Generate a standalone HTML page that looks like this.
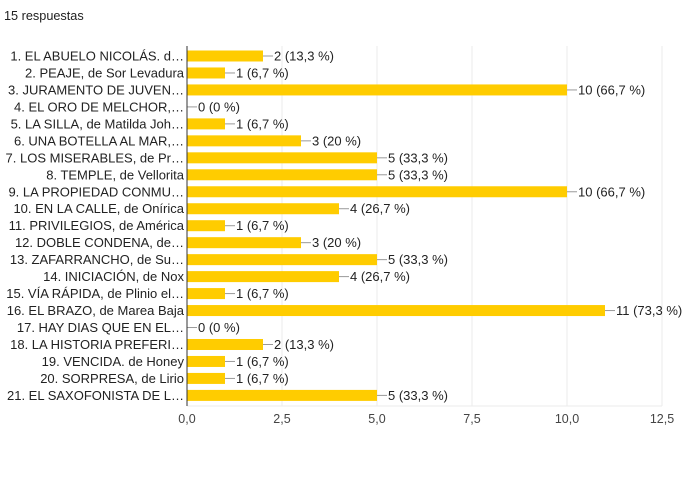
<!DOCTYPE html>
<html><head><meta charset="utf-8"><style>
body{margin:0;background:#fff;width:700px;height:474px;overflow:hidden;font-family:"Liberation Sans",Arial,sans-serif;}
</style></head><body>
<svg width="700" height="474" xmlns="http://www.w3.org/2000/svg" font-family="Liberation Sans, Arial, sans-serif">
<text x="4" y="20" font-size="12.7" fill="#212121">15 respuestas</text>
<g stroke="#ebebeb" stroke-width="1">
<line x1="282" y1="46" x2="282" y2="406"/>
<line x1="377" y1="46" x2="377" y2="406"/>
<line x1="472" y1="46" x2="472" y2="406"/>
<line x1="567" y1="46" x2="567" y2="406"/>
<line x1="662" y1="46" x2="662" y2="406"/>
<line x1="187" y1="406" x2="662" y2="406"/>
</g>
<g id="rows" font-size="13" fill="#222"></g>
<line x1="187" y1="46" x2="187" y2="406" stroke="#333" stroke-width="1"/>
<g font-size="12.5" fill="#444" text-anchor="middle">
<text x="187" y="423">0,0</text><text x="282" y="423">2,5</text><text x="377" y="423">5,0</text><text x="472" y="423">7,5</text><text x="567" y="423">10,0</text><text x="662" y="423">12,5</text>
</g>
</svg>
<script>
var d=[["1. EL ABUELO NICOLÁS. d…",2,"13,3"],["2. PEAJE, de Sor Levadura",1,"6,7"],["3. JURAMENTO DE JUVEN…",10,"66,7"],["4. EL ORO DE MELCHOR,…",0,"0"],["5. LA SILLA, de Matilda Joh…",1,"6,7"],["6. UNA BOTELLA AL MAR,…",3,"20"],["7. LOS MISERABLES, de Pr…",5,"33,3"],["8. TEMPLE, de Vellorita",5,"33,3"],["9. LA PROPIEDAD CONMU…",10,"66,7"],["10. EN LA CALLE, de Onírica",4,"26,7"],["11. PRIVILEGIOS, de América",1,"6,7"],["12. DOBLE CONDENA, de…",3,"20"],["13. ZAFARRANCHO, de Su…",5,"33,3"],["14. INICIACIÓN, de Nox",4,"26,7"],["15. VÍA RÁPIDA, de Plinio el…",1,"6,7"],["16. EL BRAZO, de Marea Baja",11,"73,3"],["17. HAY DIAS QUE EN EL…",0,"0"],["18. LA HISTORIA PREFERI…",2,"13,3"],["19. VENCIDA. de Honey",1,"6,7"],["20. SORPRESA, de Lirio",1,"6,7"],["21. EL SAXOFONISTA DE L…",5,"33,3"]];
var g=document.getElementById("rows"),h="";
d.forEach(function(r,i){var y=50.5+i*16.97,w=r[1]*38,x=187+w;
h+='<text x="184" y="'+(y+10)+'" text-anchor="end">'+r[0]+'</text>';
if(w>0)h+='<rect x="187" y="'+y+'" width="'+w+'" height="11" fill="#ffcc00"/>';
h+='<line x1="'+x+'" y1="'+(y+5.5)+'" x2="'+(x+10)+'" y2="'+(y+5.5)+'" stroke="#999"/>';
h+='<text x="'+(x+11)+'" y="'+(y+10)+'">'+r[1]+' ('+r[2]+' %)</text>';});
g.innerHTML=h;
</script>
</body></html>
